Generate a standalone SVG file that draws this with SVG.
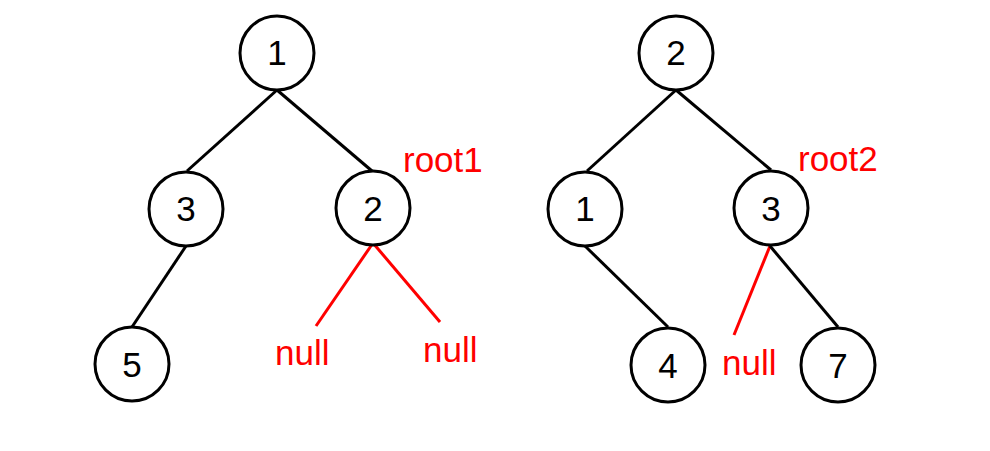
<svg xmlns="http://www.w3.org/2000/svg" width="990" height="451" viewBox="0 0 990 451">
<style>
.n circle{fill:#fff;stroke:#000;stroke-width:3}
.n text{font-family:"Liberation Sans",Arial,sans-serif;font-size:35px;fill:#000;text-anchor:middle}
.e{stroke:#000;stroke-width:3;fill:none}
.r{stroke:#f00;stroke-width:3;fill:none}
.lbl{font-family:"Liberation Sans",Arial,sans-serif;font-size:35px;fill:#f00}
</style>
<rect width="990" height="451" fill="#fff"/>
<g id="connectors">
<line class="e" x1="277" y1="90" x2="187" y2="171"/>
<line class="e" x1="277" y1="90" x2="372" y2="171"/>
<line class="e" x1="186" y1="246" x2="132" y2="327"/>
<line class="r" x1="373" y1="243" x2="316" y2="326"/>
<line class="r" x1="373" y1="243" x2="440" y2="322"/>
<line class="e" x1="676" y1="90" x2="587" y2="171"/>
<line class="e" x1="676" y1="90" x2="771" y2="170"/>
<line class="e" x1="585" y1="246" x2="668" y2="327"/>
<line class="r" x1="770" y1="246" x2="734" y2="335"/>
<line class="e" x1="770" y1="246" x2="838" y2="327"/>
</g>
<g id="t1n1" class="n"><circle cx="277" cy="53" r="37"/><text x="277" y="65">1</text></g>
<g id="t1n3" class="n"><circle cx="186" cy="209" r="37"/><text x="186" y="221">3</text></g>
<g id="t1n2" class="n"><circle cx="373" cy="208" r="37"/><text x="373" y="221">2</text></g>
<g id="t1n5" class="n"><circle cx="132" cy="364" r="37"/><text x="132" y="377">5</text></g>
<g id="t2n2" class="n"><circle cx="676" cy="53" r="37"/><text x="676" y="65">2</text></g>
<g id="t2n1" class="n"><circle cx="585" cy="209" r="37"/><text x="585" y="221">1</text></g>
<g id="t2n3" class="n"><circle cx="771" cy="208" r="37"/><text x="771" y="221">3</text></g>
<g id="t2n4" class="n"><circle cx="668" cy="365" r="37"/><text x="668" y="378">4</text></g>
<g id="t2n7" class="n"><circle cx="838" cy="365" r="37"/><text x="838" y="378">7</text></g>
<g id="labels">
<text class="lbl" x="403" y="172">root1</text>
<text class="lbl" x="275" y="365">null</text>
<text class="lbl" x="423" y="362">null</text>
<text class="lbl" x="798" y="171">root2</text>
<text class="lbl" x="722" y="375">null</text>
</g>
</svg>
